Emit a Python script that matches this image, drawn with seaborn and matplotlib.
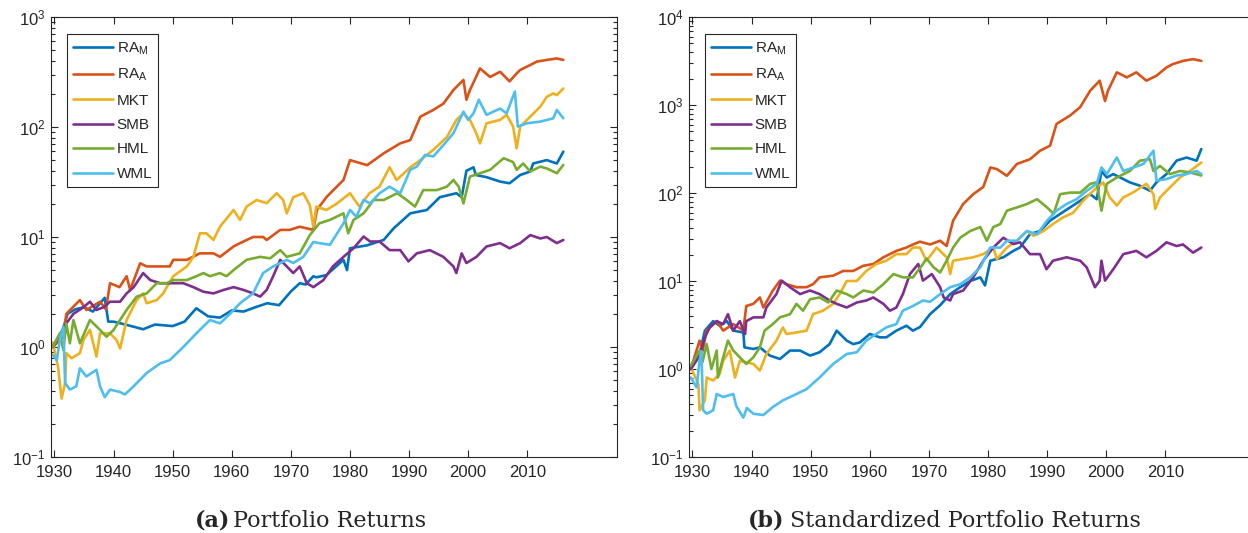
import numpy as np
import pandas as pd
import matplotlib
matplotlib.use("Agg")
import matplotlib.pyplot as plt
import seaborn as sns
from matplotlib.ticker import LogLocator, LogFormatterSciNotation, NullFormatter, FixedLocator

# ----------------------------------------------------------------------
# Data (cumulative returns, log scale)
# ----------------------------------------------------------------------
series_names = ["RA_M", "RA_A", "MKT", "SMB", "HML", "WML"]
legend_labels = [r"RA$_\mathrm{M}$", r"RA$_\mathrm{A}$", "MKT", "SMB", "HML", "WML"]
colors = ["#0072BD", "#D95319", "#EDB120", "#7E2F8E", "#77AC30", "#4DBEEE"]
year_ticks = [1930, 1940, 1950, 1960, 1970, 1980, 1990, 2000, 2010]

# --- (a) Portfolio Returns ---
a_ram_yr = [1929.7, 1931, 1932.2, 1933.5, 1935, 1936.5, 1938.5, 1939.1, 1940, 1942, 1945, 1947, 1950, 1952,
            1954, 1956, 1958, 1960, 1962, 1964, 1966, 1968, 1970, 1971.5, 1972.5, 1973.8, 1974.3, 1976,
            1978.9, 1979.5, 1980, 1982.9, 1985.7, 1987.4, 1990.2, 1993, 1995.2, 1998, 1998.9, 1999.7,
            2000.9, 2001.3, 2003.1, 2005.4, 2007, 2008.8, 2010.5, 2011, 2013.3, 2015, 2016.1]
a_ram_val = [1.0, 1.2, 2.0, 2.2, 2.3, 2.1, 2.8, 1.7, 1.7, 1.6, 1.45, 1.6, 1.55, 1.7, 2.25, 1.9, 1.85, 2.15,
             2.1, 2.3, 2.5, 2.4, 3.2, 3.8, 3.7, 4.4, 4.3, 4.5, 6.2, 5.0, 7.9, 8.4, 9.4, 12, 16.4, 17.6, 23,
             25, 23, 40, 43, 36.6, 35, 31.9, 30.8, 36.6, 39.4, 46.6, 50, 46.6, 59.7]

a_raa_yr = [1929.7, 1931.5, 1932, 1934.3, 1935.4, 1937.7, 1938.7, 1939.4, 1941, 1942.2, 1942.8, 1944.5,
            1945.6, 1947.3, 1949.5, 1950.1, 1952.4, 1954.6, 1956.9, 1958, 1960.3, 1961.4, 1963.6, 1965.3,
            1965.9, 1968.2, 1969.8, 1971.5, 1973.8, 1974.4, 1976, 1978.9, 1980, 1982.9, 1985.7, 1988.5,
            1990.2, 1991.9, 1994.1, 1995.8, 1997.5, 1999.2, 1999.7, 2000.3, 2002, 2003.7, 2005.4, 2007,
            2008.2, 2008.8, 2010.5, 2011.6, 2013.3, 2015, 2016.1]
a_raa_val = [1.0, 1.24, 2.0, 2.67, 2.17, 2.58, 2.2, 3.8, 3.5, 4.4, 3.3, 5.77, 5.4, 5.4, 5.4, 6.2, 6.2, 7.1,
             7.1, 6.6, 8.2, 8.8, 10, 10, 9.4, 11.6, 11.6, 12.4, 11.6, 17.6, 23, 33, 50, 45, 57.6, 71, 76,
             124, 143, 163, 217, 268, 177, 217, 341, 285, 318, 260, 307, 330, 366, 393, 407, 420, 407]

a_mkt_yr = [1929.7, 1930.6, 1931.2, 1931.8, 1932, 1932.9, 1934.3, 1934.9, 1936, 1937.1, 1937.7, 1939.4,
            1940.5, 1941.1, 1942.2, 1943.9, 1945, 1945.6, 1947.3, 1948.4, 1949, 1950.1, 1952.4, 1953.5,
            1954.6, 1955.7, 1956.9, 1958, 1960.3, 1961.4, 1962.5, 1964.2, 1965.9, 1967.6, 1968.7, 1969.3,
            1970.4, 1972.1, 1973.2, 1973.8, 1974.3, 1976, 1977.7, 1980, 1981.6, 1983.3, 1985, 1986.7,
            1987.9, 1990.2, 1991.9, 1994.1, 1996.4, 1998, 1999.2, 2000.3, 2001.4, 2002, 2003.1, 2005.4,
            2006.5, 2007.6, 2008.2, 2008.8, 2010.5, 2012.2, 2013.3, 2014.4, 2015, 2016.1]
a_mkt_val = [1.1, 0.66, 0.34, 0.47, 0.88, 0.79, 0.88, 1.16, 1.43, 0.82, 1.33, 1.33, 1.16, 0.97, 1.76, 2.67,
             3.07, 2.5, 2.67, 3.07, 3.5, 4.4, 5.4, 6.6, 10.8, 10.8, 9.4, 12.4, 17.6, 14.3, 18.9, 21.7, 20.3,
             25, 21.7, 16.4, 23, 25, 19.5, 12.4, 18.9, 17.6, 20, 25, 18.9, 25, 28.7, 43, 33, 43, 50, 62, 81,
             116, 133, 116, 87, 71, 108, 116, 129, 101, 64, 101, 124, 153, 188, 202, 195, 224]

a_smb_yr = [1929.7, 1932, 1933.2, 1934.9, 1936, 1937.1, 1938.3, 1939.4, 1941.1, 1942.2, 1943.4, 1945,
            1946.2, 1947.9, 1950.1, 1951.8, 1953.5, 1955.2, 1956.9, 1958.6, 1960.3, 1962, 1963.6, 1964.8,
            1965.9, 1967, 1968.2, 1969.3, 1970.4, 1971.5, 1972.7, 1973.8, 1975.5, 1977.1, 1978.9, 1980.6,
            1982.3, 1983.4, 1985, 1986.7, 1988.5, 1989.9, 1991.3, 1993.5, 1995.8, 1997.5, 1998, 1998.9,
            1999.7, 2001.4, 2003.1, 2005.4, 2007, 2008.8, 2010.5, 2012.2, 2013.3, 2015, 2016.1]
a_smb_val = [1.0, 1.64, 2.0, 2.3, 2.58, 2.17, 2.3, 2.58, 2.58, 3.07, 3.5, 4.7, 4.06, 3.8, 3.8, 3.8, 3.5,
             3.18, 3.07, 3.3, 3.5, 3.3, 3.07, 2.87, 3.3, 4.4, 6.2, 5.4, 4.7, 5.4, 3.8, 3.5, 4.06, 5.4, 6.6,
             7.9, 10.1, 9.1, 9.1, 7.6, 7.6, 6.0, 7.1, 7.6, 6.6, 5.4, 4.7, 7.1, 5.8, 6.6, 8.2, 8.8, 7.9, 8.8,
             10.4, 9.7, 10, 8.8, 9.4]

a_hml_yr = [1929.7, 1930.9, 1931.5, 1932, 1932.6, 1933.2, 1934.3, 1936, 1937.7, 1938.8, 1940, 1942.2,
            1943.9, 1945.6, 1947.3, 1949, 1950.1, 1952.4, 1954, 1955.2, 1956.3, 1958, 1959.1, 1960.3,
            1962.5, 1964.8, 1966.5, 1968.2, 1969.3, 1971.5, 1973.2, 1974.8, 1976.6, 1978.9, 1979.7,
            1980.6, 1982.3, 1984, 1985.7, 1988, 1989.6, 1991, 1992.4, 1994.7, 1996.4, 1997.5, 1998.4,
            1999.2, 2000.3, 2002, 2003.7, 2006, 2007.6, 2008.2, 2009.3, 2010.5, 2012.2, 2013.3, 2015, 2016.1]
a_hml_val = [1.0, 1.33, 0.94, 1.64, 1.08, 1.76, 1.08, 1.76, 1.43, 1.24, 1.43, 2.17, 2.87, 3.07, 3.8, 3.8,
             4.06, 4.06, 4.4, 4.7, 4.4, 4.7, 4.4, 5.0, 6.2, 6.6, 6.4, 7.6, 6.6, 7.1, 10.4, 13.3, 14.3, 16.4,
             10.8, 14.3, 16.4, 21.7, 21.7, 25, 21.7, 18.9, 26.7, 26.7, 28.7, 33, 28.7, 20.2, 35.4, 38, 40.8,
             52, 48, 40.8, 46.6, 39.4, 43.6, 42, 38, 45.2]

a_wml_yr = [1929.7, 1930.4, 1930.9, 1931.5, 1931.8, 1932.6, 1933.7, 1934.3, 1935.4, 1937.1, 1937.7,
            1938.5, 1939.4, 1941.1, 1941.9, 1943.4, 1945.6, 1947.9, 1949.5, 1951.8, 1954, 1956.3, 1958,
            1959.7, 1961.4, 1963.6, 1965.3, 1967, 1969.3, 1970.4, 1972.1, 1973.8, 1974.8, 1976.6, 1978.9,
            1980, 1981.1, 1982.3, 1983.4, 1985, 1986.7, 1988.5, 1990.2, 1991.3, 1992.7, 1994.1, 1995.8,
            1997.5, 1999.2, 2000, 2000.9, 2001.8, 2003.1, 2005.4, 2006.5, 2007.9, 2008.4, 2009.9, 2012.2,
            2014.4, 2015, 2016.1]
a_wml_val = [0.85, 0.76, 1.16, 1.53, 0.47, 0.41, 0.44, 0.64, 0.54, 0.62, 0.44, 0.35, 0.41, 0.39, 0.37,
             0.44, 0.58, 0.71, 0.76, 1.0, 1.33, 1.76, 1.64, 2.0, 2.5, 3.07, 4.7, 5.4, 6.2, 5.8, 6.6, 9.0,
             8.8, 8.5, 13.3, 17.6, 15.3, 21.7, 20.2, 25, 28.7, 25, 40.8, 43.6, 55.7, 54, 68.5, 87.6, 138,
             116, 133, 177, 129, 147, 133, 210, 101, 108, 112, 120, 143, 120]

# --- (b) Standardized Portfolio Returns ---
b_ram_yr = [1929.7, 1931.2, 1932.1, 1933.5, 1934.6, 1935.8, 1936.9, 1938.6, 1938.8, 1940.3, 1941.4,
            1943.1, 1944.8, 1946.5, 1948.2, 1949.9, 1951.5, 1953.2, 1954.4, 1956.1, 1957.2, 1958.3, 1960,
            1961.7, 1962.8, 1964.5, 1966.2, 1967.3, 1968.5, 1970.2, 1971.9, 1973.6, 1975.3, 1977, 1978.7,
            1979.5, 1980.4, 1982.6, 1984.3, 1985.4, 1987.1, 1988.8, 1990.5, 1992.2, 1993.9, 1995.6, 1997.3,
            1998.4, 1999.2, 2000.1, 2001.2, 2002.9, 2004, 2005.7, 2007.4, 2008.5, 2010.2, 2011.9, 2013.6,
            2015.3, 2016.1]
b_ram_val = [1.0, 1.48, 2.73, 3.5, 3.1, 3.5, 2.73, 2.6, 1.76, 1.69, 1.76, 1.42, 1.3, 1.62, 1.62, 1.42,
             1.55, 1.92, 2.73, 2.1, 1.92, 2.0, 2.5, 2.29, 2.29, 2.73, 3.1, 2.73, 3.0, 4.2, 5.3, 7.1, 8.5,
             10, 11, 8.9, 17, 18.6, 22, 24, 34, 37, 48.5, 57.8, 68.6, 81.5, 96.9, 85, 178, 150, 164, 144,
             132, 121, 106, 132, 164, 233, 253, 233, 316]

b_raa_yr = [1929.7, 1931.2, 1931.7, 1932.4, 1934.1, 1935.2, 1936.9, 1938.6, 1939.1, 1940.3, 1941.4, 1942,
            1943.6, 1944.8, 1945.9, 1947.6, 1949.3, 1950.4, 1951.5, 1953.8, 1955.5, 1957.2, 1958.9, 1960.6,
            1962.3, 1964.5, 1966.2, 1967.3, 1968.5, 1970.2, 1971.9, 1973, 1974.1, 1975.8, 1977.5, 1979.2,
            1980.4, 1981.5, 1983.2, 1984.9, 1987.1, 1988.8, 1990.5, 1991.6, 1993.9, 1995.6, 1997.3, 1998.9,
            1999.8, 2000.3, 2001.8, 2003.5, 2005.1, 2006.8, 2008.5, 2010.2, 2011.3, 2013, 2014.7, 2016.1]
b_raa_val = [1.0, 2.1, 1.6, 2.73, 3.5, 2.73, 3.24, 2.73, 5.2, 5.5, 6.5, 5.0, 7.8, 10.1, 9.2, 8.5, 8.5, 9.2,
             11, 11.5, 13, 13, 14.9, 15.6, 18.6, 22, 24, 26, 28, 26, 28.7, 25, 48.5, 75, 96.9, 117, 195, 187,
             157, 214, 242, 302, 345, 610, 760, 945, 1455, 1890, 1110, 1455, 2350, 2060, 2350, 1890, 2150,
             2670, 2920, 3170, 3320, 3170]

b_mkt_yr = [1929.7, 1931, 1931.2, 1932.1, 1932.4, 1933.5, 1934.6, 1935.2, 1936.3, 1937.2, 1938, 1939.1,
            1940.3, 1941.4, 1942.5, 1944.2, 1945.3, 1945.9, 1947.6, 1949.3, 1950.4, 1952.1, 1953.8, 1954.9,
            1956.1, 1957.8, 1959.4, 1961.1, 1962.8, 1964.5, 1966.2, 1967.3, 1968.5, 1969.6, 1971.3, 1973,
            1973.6, 1974.1, 1975.8, 1977.5, 1979.2, 1980.9, 1981.5, 1983.2, 1984.9, 1986.6, 1987.7, 1989.4,
            1991, 1992.7, 1994.4, 1996.1, 1997.8, 1999.5, 2000.6, 2001.8, 2002.9, 2004.6, 2006.8, 2008,
            2008.3, 2009.1, 2010.8, 2012.5, 2014.2, 2016.1]
b_mkt_val = [1.05, 0.67, 0.34, 0.44, 0.8, 0.74, 0.88, 1.24, 1.62, 0.8, 1.24, 1.19, 1.14, 0.96, 1.48, 2.1,
             2.97, 2.5, 2.6, 2.73, 4.2, 4.6, 5.5, 7.1, 10, 10, 13, 15.6, 17, 20.2, 20.2, 24, 24, 17, 24,
             18.6, 12, 17, 17.8, 18.6, 20.2, 24, 17.8, 24, 28.7, 37, 32.6, 37, 44.5, 52.8, 59.5, 81.5, 106,
             132, 89, 72, 89, 102, 127, 97, 66, 89, 116, 150, 178, 222]

b_smb_yr = [1929.7, 1931.2, 1932.1, 1932.9, 1934.1, 1935.2, 1936, 1936.9, 1938, 1938.9, 1939.1, 1940.3,
            1942, 1942.5, 1944.2, 1945.1, 1946.5, 1948.2, 1949.9, 1951.5, 1953.2, 1954.4, 1956.1, 1957.8,
            1959.4, 1960.6, 1962.3, 1963.4, 1964.5, 1965.6, 1966.8, 1968.2, 1969, 1970.5, 1971.9, 1972.5,
            1973.6, 1974.1, 1975.8, 1977.5, 1979.2, 1980.9, 1982.6, 1984.3, 1985.4, 1987.1, 1988.8, 1989.9,
            1991, 1993.3, 1995.6, 1996.7, 1998.1, 1998.9, 1999.2, 1999.8, 2001.2, 2002.9, 2005.1, 2006.8,
            2008.5, 2010.2, 2011.9, 2013, 2014.7, 2016.1]
b_smb_val = [1.0, 1.4, 2.29, 2.97, 3.5, 3.24, 4.2, 2.73, 3.5, 2.5, 3.5, 3.86, 3.86, 5.0, 7.1, 10.1, 8.5,
             7.1, 7.8, 7.1, 6.0, 5.5, 5.0, 5.7, 6.0, 6.5, 5.5, 4.6, 5.0, 7.1, 12, 15.6, 10.1, 12, 8.5, 6.5,
             6.0, 7.1, 7.8, 11, 17, 24, 31, 26.3, 27.5, 20.2, 20.2, 13.6, 17, 18.6, 17, 14.3, 8.5, 10.1, 17,
             10.1, 13.6, 20.2, 22, 18.6, 22, 27.5, 25, 26, 21, 24]

b_hml_yr = [1929.7, 1931.2, 1931.7, 1932.4, 1933.2, 1934.1, 1934.3, 1935.2, 1936, 1936.9, 1938, 1939.1,
            1940.3, 1941.4, 1942.2, 1943.6, 1944.8, 1946.5, 1947.6, 1948.7, 1949.9, 1951.5, 1953, 1954.4,
            1956.1, 1957.2, 1958.9, 1960.6, 1962.3, 1964, 1965.6, 1967.3, 1969, 1969.6, 1970.8, 1971.9,
            1973, 1974.1, 1975.3, 1977, 1978.7, 1979.8, 1980.9, 1982.1, 1983.2, 1984.9, 1986.6, 1988.3,
            1990, 1991.1, 1992.2, 1993.9, 1995.6, 1997.3, 1998.4, 1999.2, 2000.1, 2001.8, 2004, 2005.7,
            2007.4, 2008, 2009.1, 2010.8, 2012.5, 2014.2, 2016.1]
b_hml_val = [1.09, 1.62, 1.2, 1.92, 1.0, 1.62, 0.8, 1.36, 2.1, 1.62, 1.36, 1.14, 1.36, 1.76, 2.73, 3.24,
             3.86, 4.2, 5.5, 4.6, 6.2, 6.5, 5.7, 7.8, 7.1, 6.5, 7.8, 7.4, 9.2, 12, 11, 11, 15.6, 18, 14.3,
             12.5, 17, 24, 31, 37, 41, 28.7, 41, 44.5, 63, 68.6, 75, 85, 68.6, 57.8, 97, 101, 101, 127, 132,
             63, 127, 150, 178, 233, 242, 178, 203, 164, 178, 171, 158]

b_wml_yr = [1929.7, 1930.7, 1931.2, 1931.5, 1931.8, 1932.4, 1933.5, 1934.1, 1935.2, 1936.9, 1937.4,
            1938.6, 1939.2, 1940.3, 1942, 1943.6, 1945.3, 1947.6, 1949.3, 1951.5, 1953.8, 1956.1, 1957.8,
            1959.4, 1961.1, 1962.8, 1964.5, 1965.6, 1967.3, 1969, 1970.2, 1971.9, 1973.6, 1975.3, 1977,
            1978.7, 1980.4, 1982.1, 1983.2, 1984.9, 1986.6, 1988.3, 1990, 1991.6, 1993.3, 1995, 1996.7,
            1998.4, 1999.2, 2000.1, 2001.8, 2002.9, 2004.6, 2006.3, 2008, 2008.5, 2010.2, 2011.9, 2013.6,
            2015.3, 2016.1]
b_wml_val = [0.8, 0.62, 1.24, 1.6, 0.34, 0.31, 0.34, 0.52, 0.48, 0.52, 0.38, 0.28, 0.36, 0.31, 0.3, 0.37,
             0.44, 0.52, 0.59, 0.8, 1.14, 1.48, 1.55, 2.1, 2.5, 2.97, 3.24, 4.6, 5.2, 6.0, 5.8, 7.1, 8.5,
             9.2, 11, 14.3, 24, 24, 28.7, 28.7, 37, 34, 48.5, 63, 75, 85, 106, 127, 195, 164, 253, 178, 195,
             214, 302, 138, 144, 158, 164, 178, 164]


def long_frame(pairs):
    rows = []
    for name, (yrs, vals) in zip(series_names, pairs):
        rows.append(pd.DataFrame({"series": name, "year": yrs, "value": vals}))
    return pd.concat(rows, ignore_index=True)


df_a = long_frame([(a_ram_yr, a_ram_val), (a_raa_yr, a_raa_val), (a_mkt_yr, a_mkt_val),
                   (a_smb_yr, a_smb_val), (a_hml_yr, a_hml_val), (a_wml_yr, a_wml_val)])
df_b = long_frame([(b_ram_yr, b_ram_val), (b_raa_yr, b_raa_val), (b_mkt_yr, b_mkt_val),
                   (b_smb_yr, b_smb_val), (b_hml_yr, b_hml_val), (b_wml_yr, b_wml_val)])

# ----------------------------------------------------------------------
# Style (MATLAB-ish look)
# ----------------------------------------------------------------------
sns.set_style("ticks")
plt.rcParams["font.family"] = ["Liberation Sans", "DejaVu Sans"]
plt.rcParams["mathtext.fontset"] = "custom"
plt.rcParams["mathtext.rm"] = "Liberation Sans"
plt.rcParams["mathtext.it"] = "Liberation Sans:italic"
plt.rcParams["mathtext.bf"] = "Liberation Sans:bold"
plt.rcParams["axes.unicode_minus"] = False

W, H = 1248, 533
fig = plt.figure(figsize=(W / 100, H / 100), dpi=100)
ax_a = fig.add_axes([51 / W, (H - 457) / H, 566 / W, 440 / H])
ax_b = fig.add_axes([689 / W, (H - 457) / H, 566 / W, 440 / H])

palette = dict(zip(series_names, colors))
axis_color = "#262626"

for ax, df, ytop in [(ax_a, df_a, 1e3), (ax_b, df_b, 1e4)]:
    sns.lineplot(data=df, x="year", y="value", hue="series", hue_order=series_names,
                 palette=palette, estimator=None, linewidth=1.9, ax=ax)
    ax.set_yscale("log")
    ax.set_ylim(0.1, ytop)
    ax.set_xlim(1929.41, 2025.18)
    ax.xaxis.set_major_locator(FixedLocator(year_ticks))
    ax.yaxis.set_major_locator(LogLocator(base=10, numticks=10))
    ax.yaxis.set_major_formatter(LogFormatterSciNotation())
    ax.yaxis.set_minor_locator(LogLocator(base=10, subs=np.arange(2, 10), numticks=20))
    ax.yaxis.set_minor_formatter(NullFormatter())
    ax.set_xlabel("")
    ax.set_ylabel("")
    ax.tick_params(which="both", direction="in", top=True, right=True,
                   color=axis_color, labelcolor=axis_color, width=0.8)
    ax.tick_params(which="major", length=5, labelsize=12)
    ax.tick_params(which="minor", length=3)
    ax.tick_params(axis="x", pad=6)
    ax.tick_params(axis="y", pad=4)
    for sp in ax.spines.values():
        sp.set_color(axis_color)
        sp.set_linewidth(0.8)
    handles, _ = ax.get_legend_handles_labels()
    leg = ax.legend(handles, legend_labels, loc="upper left",
                    bbox_to_anchor=(16 / 566, 1 - 17 / 440), borderaxespad=0,
                    fontsize=11, handlelength=2.6, handletextpad=0.25, borderpad=0.4,
                    labelspacing=0.68, fancybox=False, framealpha=1, edgecolor=axis_color)
    leg.get_frame().set_linewidth(0.8)

# Captions under each panel
cap_y = 1 - 527 / H
fig.text(195 / W, cap_y, "(a)", fontsize=16, fontweight="bold", family="DejaVu Serif", va="baseline")
fig.text(233 / W, cap_y, "Portfolio Returns", fontsize=16, family="DejaVu Serif", va="baseline")
fig.text(748 / W, cap_y, "(b)", fontsize=16, fontweight="bold", family="DejaVu Serif", va="baseline")
fig.text(790 / W, cap_y, "Standardized Portfolio Returns", fontsize=16, family="DejaVu Serif", va="baseline")

fig.savefig("out.png", dpi=100)
